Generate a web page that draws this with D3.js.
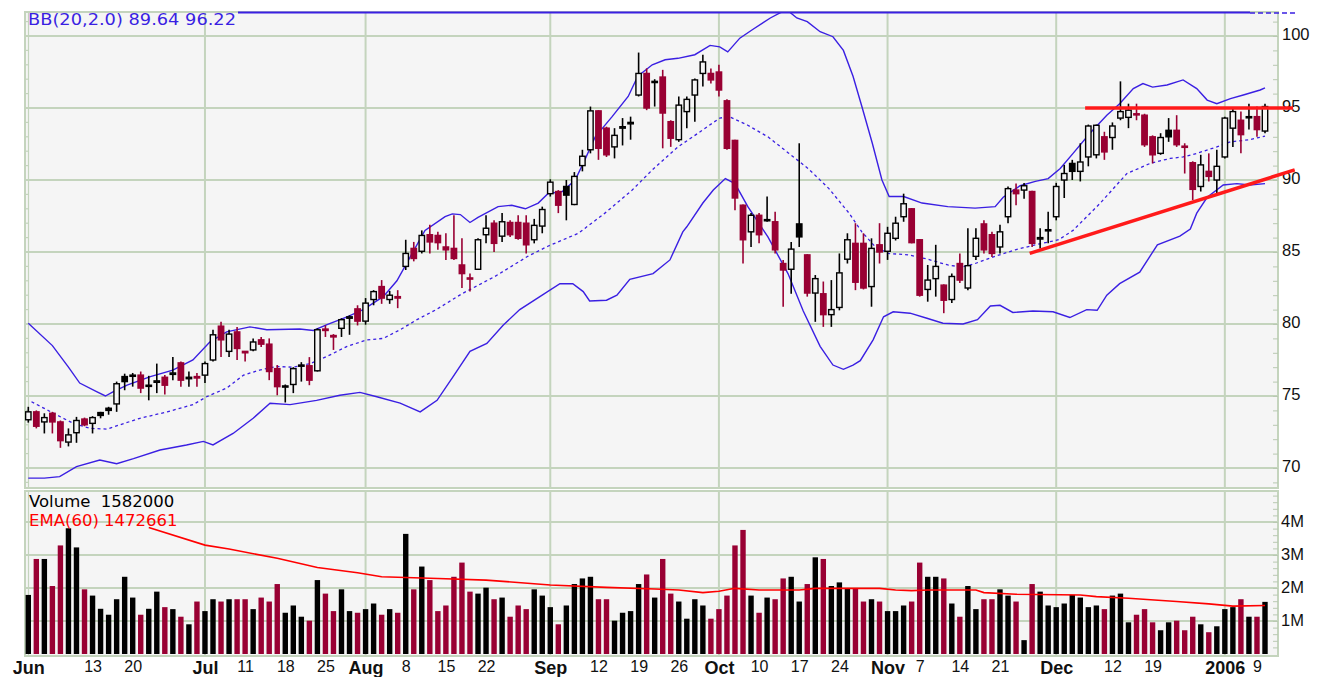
<!DOCTYPE html>
<html>
<head>
<meta charset="utf-8">
<script src="https://cdn.jsdelivr.net/npm/d3@7"></script>
<style>
  body { margin: 0; background: #fff; }
  svg { display: block; font-family: "DejaVu Sans", Verdana, sans-serif; }
</style>
</head>
<body>
<svg id="chart" width="1322" height="677"></svg>
<script>
// daily OHLC, 1 Jun 2005 .. 10 Jan 2006 (trading days)
const open = [
  73.35, 73.9, 73.2, 73.8, 73.2, 71.8, 72.45, 73.4, 73.1, 73.85,
  74.15, 74.45, 76.35, 76.45, 76.45, 75.7, 75.95, 76.3, 76.5, 77.3,
  76.2, 76.35, 76.45, 77.5, 79.85, 78.1, 79.45, 78.1, 78.2, 78.9,
  78.6, 76.9, 75.65, 75.8, 77.1, 77.1, 76.75, 79.65, 79.2, 79.7,
  80.4, 81.05, 80.2, 81.7, 82.6, 81.7, 81.9, 84.0, 85.25, 85.05,
  86.2, 86.15, 85.35, 85.25, 84.1, 83.2, 83.8, 86.2, 87.0, 86.1,
  87.05, 87.05, 87.0, 85.85, 86.8, 89.05, 89.2, 89.55, 88.3, 91.0,
  92.1, 94.8, 93.6, 92.3, 93.6, 93.9, 95.9, 97.4, 96.8, 97.15,
  94.05, 92.8, 94.75, 95.9, 97.4, 97.4, 97.5, 95.5, 92.75, 88.25,
  86.4, 87.55, 87.2, 87.1, 84.2, 83.8, 86.95, 84.8, 82.15, 82.1,
  80.65, 81.15, 84.5, 85.6, 85.6, 82.6, 85.5, 85.05, 85.95, 87.45,
  88.0, 85.85, 82.4, 83.15, 82.7, 81.7, 84.2, 82.5, 84.7, 86.95,
  86.2, 85.35, 87.45, 89.3, 89.3, 89.2, 85.9, 86.5, 87.45, 90.0,
  91.15, 90.6, 91.6, 91.75, 93.0, 92.95, 94.3, 94.35, 94.6, 94.5,
  93.0, 91.85, 93.45, 93.45, 92.35, 91.2, 89.55, 90.6, 90.0, 91.6,
  93.6, 94.15, 94.35, 94.4, 93.4
];
const high = [
  74.25, 74.0, 73.8, 73.9, 73.3, 72.75, 73.55, 73.5, 73.6, 73.9,
  74.25, 76.0, 76.55, 76.6, 76.7, 76.4, 77.25, 76.45, 77.7, 77.4,
  76.7, 76.6, 77.4, 79.6, 80.15, 79.6, 79.8, 78.1, 79.0, 79.1,
  79.0, 77.15, 75.8, 77.0, 77.35, 77.7, 79.7, 79.9, 79.3, 80.4,
  80.6, 81.3, 81.8, 82.35, 83.05, 82.3, 82.35, 85.85, 85.7, 86.5,
  86.9, 86.4, 86.3, 87.55, 85.95, 83.5, 85.95, 87.55, 87.2, 87.7,
  87.2, 87.55, 87.55, 87.3, 88.15, 90.05, 89.3, 90.0, 90.55, 92.1,
  95.1, 94.85, 93.7, 93.6, 94.3, 94.4, 98.85, 97.75, 97.0, 97.65,
  94.15, 95.8, 95.8, 97.05, 98.7, 97.75, 98.0, 95.6, 92.8, 88.3,
  87.7, 87.7, 88.85, 87.8, 84.45, 85.7, 92.55, 84.85, 83.4, 82.95,
  83.05, 84.9, 86.3, 87.0, 86.3, 85.95, 87.0, 86.75, 87.45, 89.05,
  88.05, 85.9, 84.1, 85.5, 82.75, 83.5, 84.9, 86.65, 86.65, 87.2,
  86.4, 86.9, 89.55, 89.75, 89.8, 89.25, 86.65, 87.8, 89.8, 91.05,
  91.4, 92.55, 93.85, 93.85, 93.35, 94.0, 96.85, 95.3, 95.3, 94.6,
  93.1, 93.25, 94.3, 94.5, 92.55, 91.3, 91.75, 91.85, 92.1, 94.4,
  95.0, 94.75, 95.3, 95.1, 95.3
];
const low = [
  73.15, 72.75, 72.4, 72.4, 71.4, 71.5, 71.75, 72.9, 72.4, 73.45,
  73.7, 73.9, 75.4, 75.65, 75.2, 74.7, 75.2, 75.1, 76.1, 75.65,
  75.65, 75.65, 75.9, 77.4, 77.7, 77.7, 77.5, 77.4, 78.1, 78.4,
  76.1, 75.05, 74.55, 75.2, 76.0, 75.75, 76.7, 79.1, 78.2, 79.1,
  79.25, 79.9, 79.95, 81.3, 81.4, 81.4, 81.1, 83.75, 84.35, 84.9,
  84.9, 85.15, 84.45, 84.45, 82.5, 82.25, 83.75, 85.6, 85.0, 85.7,
  86.05, 85.85, 84.9, 85.6, 86.3, 88.85, 87.7, 87.2, 88.25, 90.6,
  91.85, 91.4, 91.6, 91.5, 92.4, 92.8, 95.8, 94.85, 95.1, 92.2,
  92.3, 92.65, 93.6, 94.05, 96.5, 96.7, 95.8, 92.1, 87.9, 84.2,
  85.35, 85.6, 87.1, 84.9, 81.2, 82.1, 85.35, 81.9, 80.15, 79.8,
  79.8, 80.95, 84.2, 82.35, 82.4, 81.2, 84.2, 84.45, 85.8, 87.1,
  85.6, 81.9, 81.55, 81.9, 80.75, 81.45, 82.85, 82.35, 84.45, 84.9,
  84.65, 84.9, 87.0, 88.25, 88.7, 85.35, 85.25, 85.6, 87.2, 88.75,
  90.0, 89.9, 90.95, 91.5, 91.4, 92.1, 94.15, 93.6, 94.15, 92.3,
  91.15, 91.75, 92.65, 92.3, 90.45, 88.6, 89.2, 89.9, 89.1, 91.5,
  92.3, 91.85, 93.5, 93.0, 93.25
];
const close = [
  73.9, 72.9, 73.5, 73.2, 71.9, 72.3, 73.3, 73.0, 73.5, 73.65,
  74.0, 75.85, 76.0, 76.4, 75.55, 75.75, 76.05, 75.75, 76.6, 76.1,
  76.3, 76.25, 77.25, 79.25, 78.9, 79.3, 78.3, 78.0, 78.75, 78.6,
  76.7, 75.65, 75.7, 76.9, 77.15, 76.1, 79.6, 79.55, 79.1, 80.3,
  80.5, 80.2, 81.45, 82.25, 81.8, 82.0, 81.8, 84.9, 84.55, 86.15,
  85.7, 85.65, 85.15, 84.55, 83.5, 83.15, 85.85, 86.65, 85.6, 87.1,
  86.2, 85.95, 85.5, 86.85, 87.95, 89.85, 88.25, 88.95, 90.25, 91.65,
  94.8, 92.2, 91.75, 93.1, 93.7, 94.0, 97.4, 95.0, 96.85, 94.65,
  92.9, 95.2, 95.6, 96.95, 98.2, 96.95, 96.25, 92.2, 88.75, 85.85,
  87.55, 86.2, 87.25, 85.15, 83.75, 85.2, 86.05, 82.15, 83.15, 80.65,
  81.0, 83.55, 85.85, 82.9, 82.5, 85.25, 85.0, 86.3, 87.0, 88.35,
  85.65, 82.0, 83.05, 84.0, 81.65, 83.3, 83.05, 84.05, 85.95, 85.15,
  84.9, 86.4, 89.4, 89.05, 89.6, 85.6, 86.0, 86.55, 89.55, 90.45,
  90.6, 91.25, 93.75, 93.8, 91.95, 93.75, 94.75, 94.85, 94.55, 92.45,
  91.75, 92.95, 93.0, 92.45, 92.3, 89.35, 91.05, 90.25, 90.95, 94.3,
  94.75, 93.15, 94.4, 93.5, 95.1
];
// volume in millions
const volume = [
  1.79, 2.88, 2.88, 2.06, 3.29, 3.81, 3.23, 1.96, 1.77, 1.37,
  1.19, 1.66, 2.34, 1.71, 1.19, 1.37, 1.89, 1.42, 1.36, 1.13,
  0.9, 1.59, 1.3, 1.66, 1.59, 1.66, 1.66, 1.66, 1.36, 1.71,
  1.59, 2.12, 1.25, 1.47, 1.13, 1.01, 2.24, 1.83, 1.3, 1.96,
  1.3, 1.25, 1.36, 1.53, 1.19, 1.36, 1.25, 3.64, 1.96, 2.65,
  2.24, 1.3, 1.47, 2.34, 2.77, 1.89, 1.83, 2.01, 1.66, 1.71,
  1.13, 1.47, 1.36, 1.96, 1.77, 1.42, 0.9, 1.47, 2.12, 2.29,
  2.34, 1.66, 1.66, 1.01, 1.25, 1.3, 2.12, 2.41, 1.71, 2.88,
  1.83, 1.59, 1.07, 1.66, 1.47, 1.07, 1.36, 1.77, 3.29, 3.76,
  1.77, 1.25, 1.71, 1.66, 2.29, 2.34, 1.59, 2.12, 2.93, 2.88,
  2.06, 2.17, 1.99, 1.99, 1.59, 1.66, 1.59, 1.3, 1.3, 1.47,
  1.59, 2.77, 2.34, 2.34, 2.29, 1.53, 1.13, 2.06, 1.36, 1.66,
  1.66, 1.96, 1.77, 1.59, 0.42, 2.12, 1.89, 1.47, 1.42, 1.53,
  1.79, 1.71, 1.42, 1.47, 1.36, 1.77, 1.83, 0.96, 1.19, 1.36,
  0.96, 0.72, 0.96, 1.01, 0.72, 1.13, 0.9, 0.66, 0.84, 1.36,
  1.42, 1.66, 1.13, 1.13, 1.58
];

// Bollinger bands: [bar index, price]
const bbUpper = [
  [0,80.05],[3,78.5],[5,77.0],[6.4,75.9],[8.5,75.3],[9.6,75.0],[10.6,75.3],[12.3,75.75],
  [15.2,76.35],[18,76.8],[20.5,77.5],[22.6,78.75],[24.7,79.45],[27.6,79.8],[29.7,79.6],
  [33.8,79.65],[35.5,79.55],[37.2,79.95],[39.7,80.5],[41.7,81.0],[44.2,81.9],[45.9,83.0],
  [47.8,84.9],[49.4,86.5],[51.9,87.45],[52.8,87.65],[53.8,87.6],[55,87.05],[56,87.4],
  [58.5,88.15],[60.2,88.25],[61.9,88.0],[63.5,88.4],[64.7,89.05],[66.5,89.2],[68.1,90.0],
  [69.3,91.4],[70.6,93.0],[72.7,94.4],[74.7,95.8],[75.9,97.2],[77.7,98.0],[79.3,98.35],
  [80.9,98.45],[83,98.7],[84.9,99.35],[86.1,99.25],[87.1,98.9],[88.6,99.85],[90.2,100.45],
  [92.4,101.25],[93.6,101.6],[94.5,101.8],[95.7,101.25],[97,101.0],[98.6,100.3],[100.2,99.95],
  [101.5,99.0],[102.7,97.2],[103.8,95.1],[105.1,92.55],[106.3,90.0],[107.2,88.85],[109,88.85],
  [111.3,88.4],[114.5,88.15],[117.9,88.05],[120.4,88.15],[121.4,88.8],[123.5,89.6],[125.4,89.9],
  [127,90.1],[128.5,90.8],[130.1,91.85],[132.2,93.25],[134.3,94.5],[135.9,95.3],[137.6,96.35],
  [138.8,96.7],[140,96.45],[141.8,96.6],[143.8,96.95],[145.5,96.35],[146.8,95.55],[148,95.3],
  [149.7,95.65],[151.3,95.9],[153.4,96.25],[154,96.4]
];
const bbMiddle = [
  [0.4,74.6],[3.5,73.7],[5.6,73.1],[7.7,72.75],[9.8,72.7],[11.4,73.0],[13.9,73.45],[17.3,73.9],
  [20.5,74.4],[22.2,74.95],[24.7,75.55],[26.8,76.45],[28.8,76.8],[30.9,77.05],[33,77.0],
  [35.1,77.25],[37.2,77.75],[39.7,78.45],[42.2,78.9],[44.2,79.0],[46.3,79.6],[48.4,80.3],
  [50.8,81.0],[54,82.1],[58.1,83.3],[62.2,84.7],[64.7,85.4],[68.5,86.3],[71.8,87.7],[75.2,89.3],
  [77.7,90.7],[80.9,92.3],[83.4,93.25],[86.1,94.3],[87.3,94.4],[89.6,93.8],[92.1,93.0],
  [94.6,91.9],[97.1,90.8],[99.7,89.4],[102.2,87.7],[103.8,86.4],[105.4,85.4],[107.1,84.9],
  [109.6,84.8],[112,84.5],[114.5,84.1],[116.3,83.95],[117.9,84.2],[120.4,84.7],[122.9,85.15],
  [125.4,85.5],[128.3,85.85],[130.1,86.5],[133.5,88.4],[136.8,90.45],[139.7,91.15],[142.2,91.5],
  [143.8,91.6],[145.5,91.85],[148,92.3],[149.7,92.65],[152.1,92.8],[154,93.05]
];
const bbLower = [
  [0,69.3],[2,69.3],[3.9,69.4],[6,70.1],[8.9,70.55],[11,70.3],[13.1,70.65],[16.4,71.25],
  [19.7,71.6],[21.8,71.85],[23,71.6],[25.5,72.4],[28,73.45],[30.1,74.5],[32.6,74.4],[35.9,74.7],
  [38.8,75.05],[41.3,75.25],[43.4,74.95],[46.3,74.5],[48.8,73.9],[50.9,74.7],[52.9,76.35],
  [55,78.1],[57.1,78.65],[59.1,79.9],[61.2,81.0],[63.7,81.9],[66.2,82.8],[67.8,82.8],[69.1,82.25],
  [69.9,81.6],[72,81.65],[73.3,82.0],[74.9,83.1],[77.8,83.5],[79.9,84.45],[81.5,86.4],[82,86.75],
  [84,88.4],[85.3,89.3],[86.8,90.1],[88,89.75],[89.6,88.15],[92.1,86.05],[94.6,83.5],[96.5,80.9],
  [98.6,78.45],[100.2,77.15],[101.5,76.85],[102.7,77.15],[103.6,77.45],[105.2,78.9],[106.5,80.5],
  [107.7,80.85],[109.8,80.75],[111.9,80.4],[113.9,80.05],[116.4,80.0],[118.2,80.3],[119.8,81.25],
  [121,81.3],[122.6,80.8],[125.1,80.9],[127.6,80.85],[129.7,80.45],[131.8,81.0],[133.1,80.95],
  [134.3,82.0],[135.9,82.8],[138.4,83.6],[140.6,85.5],[143.4,86.1],[144.7,86.6],[145.5,87.7],
  [146.8,88.8],[148.8,89.65],[150.5,89.75],[152.1,89.65],[154,89.75]
];

// EMA(60) of volume
const emaIdx = [15,22,25,31,36,41,44,51,57,65,72,78,81,84,86,88,91,96,98,106,108,110,112,118,119,123,131,133,137,143,147,150,154];
const emaVal = [3.83,3.30,3.18,2.90,2.62,2.46,2.34,2.29,2.24,2.09,2.02,1.97,1.94,1.86,1.90,1.99,1.94,1.94,1.99,1.99,1.94,1.92,1.94,1.94,1.86,1.81,1.79,1.74,1.69,1.59,1.52,1.45,1.47];

// hand drawn trend lines: [[index, price], [index, price]]
const trendLines = [
  [[131.6, 95.0], [157.5, 95.0]],
  [[124.7, 84.9], [157.7, 90.7]]
];

const tickIdx = [0, 8, 13, 22, 27, 32, 37, 42, 47, 52, 57, 65, 71, 76, 81, 86, 91, 96, 101, 107, 111, 116, 121, 128, 135, 140, 149, 153];
const tickLabels = ['Jun','13','20','Jul','11','18','25','Aug','8','15','22','Sep','12','19','26','Oct','10','17','24','Nov','7','14','21','Dec','12','19','2006','9'];
const monthIdx = [22, 42, 65, 86, 107, 128, 149];
const priceTicks = [70, 75, 80, 85, 90, 95, 100];
const volTicks = [1, 2, 3, 4];

const bbLabel = 'BB(20,2.0) 89.64 96.22';
const volLabel = 'Volume  1582000';
const emaLabel = 'EMA(60) 1472661';

// ---------------------------------------------------------------
const svg = d3.select('#chart');
const left = 25, right = 1278;
const pTop = 12, pBottom = 488;
const vTop = 491, vBottom = 656;

const gridColor = '#c4d4bd';
const bg = '#f5f5f5';
const bandColor = '#3a1fe2';
const red = '#990033';

const x = d3.scaleLinear().domain([0, 154]).range([28.3, 1265]);
const y = d3.scaleLinear().domain([70, 100]).range([468, 36]);
const yv = d3.scaleLinear().domain([0, 4]).range([654, 522]);

const bars = d3.range(close.length).map(i => ({
  i, o: open[i], h: high[i], l: low[i], c: close[i], v: volume[i],
  up: i === 0 || close[i] >= close[i - 1]
}));

svg.append('rect').attr('width', 1322).attr('height', 677).attr('fill', '#fff');

// panels
svg.append('rect').attr('x', left).attr('y', pTop).attr('width', right - left).attr('height', pBottom - pTop)
  .attr('fill', bg).attr('stroke', gridColor).attr('stroke-width', 2);
svg.append('rect').attr('x', left).attr('y', vTop).attr('width', right - left).attr('height', vBottom - vTop)
  .attr('fill', bg).attr('stroke', gridColor).attr('stroke-width', 2);

svg.append('defs').append('clipPath').attr('id', 'pclip')
  .append('rect').attr('x', left).attr('y', pTop).attr('width', right - left).attr('height', pBottom - pTop);

// grid
const grid = svg.append('g').attr('stroke', gridColor).attr('stroke-width', 2);
grid.selectAll('.hp').data(priceTicks).join('line')
  .attr('x1', left).attr('x2', right).attr('y1', d => y(d)).attr('y2', d => y(d));
grid.selectAll('.hv').data(volTicks).join('line')
  .attr('x1', left).attr('x2', right).attr('y1', d => yv(d)).attr('y2', d => yv(d));
grid.selectAll('.vp').data(monthIdx).join('line')
  .attr('x1', d => x(d)).attr('x2', d => x(d)).attr('y1', pTop).attr('y2', pBottom);
grid.selectAll('.vv').data(monthIdx).join('line')
  .attr('x1', d => x(d)).attr('x2', d => x(d)).attr('y1', vTop).attr('y2', vBottom);

// left double border with small ticks
const lb = svg.append('g').attr('stroke', gridColor).attr('stroke-width', 1.2);
lb.append('line').attr('x1', 28.5).attr('x2', 28.5).attr('y1', pTop).attr('y2', pBottom);
lb.append('line').attr('x1', 28.5).attr('x2', 28.5).attr('y1', vTop).attr('y2', vBottom);
lb.selectAll('.lt').data(d3.range(69, 102)).join('line')
  .attr('x1', left).attr('x2', 28.5).attr('y1', d => y(d)).attr('y2', d => y(d));

// right minor ticks
svg.append('g').attr('transform', `translate(${right},0)`)
  .call(d3.axisLeft(y).tickValues(d3.range(69, 102)).tickSize(5).tickFormat(''))
  .call(g => g.select('.domain').remove())
  .call(g => g.selectAll('line').attr('stroke', '#b9c9b2'));
svg.append('g').attr('transform', `translate(${right},0)`)
  .call(d3.axisLeft(yv).tickValues(d3.range(0.2, 4.81, 0.2)).tickSize(5).tickFormat(''))
  .call(g => g.select('.domain').remove())
  .call(g => g.selectAll('line').attr('stroke', '#b9c9b2'));

// price axis labels
svg.append('g').attr('transform', `translate(${right},-2)`)
  .call(d3.axisRight(y).tickValues(priceTicks).tickSize(0).tickPadding(4))
  .call(g => g.select('.domain').remove())
  .call(g => g.selectAll('text').attr('font-size', 16.5).attr('fill', '#111').attr('font-family', null));
svg.append('g').attr('transform', `translate(${right},-1)`)
  .call(d3.axisRight(yv).tickValues(volTicks).tickSize(0).tickPadding(3).tickFormat(d => d + 'M'))
  .call(g => g.select('.domain').remove())
  .call(g => g.selectAll('text').attr('font-size', 16.5).attr('fill', '#111').attr('font-family', null));

// date axis
svg.append('g').attr('transform', `translate(0,${vBottom})`)
  .call(d3.axisBottom(x).tickValues(tickIdx).tickSize(0).tickPadding(5).tickFormat((d, k) => tickLabels[k]))
  .call(g => g.select('.domain').remove())
  .call(g => g.selectAll('text')
    .attr('fill', '#111').attr('font-family', null)
    .attr('font-size', (d, k) => /^\d{1,2}$/.test(tickLabels[k]) ? 16 : 18)
    .attr('font-weight', (d, k) => /^\d{1,2}$/.test(tickLabels[k]) ? 'normal' : 'bold'));

// price panel content
const plot = svg.append('g').attr('clip-path', 'url(#pclip)');

const bandLine = d3.line().x(d => x(d[0])).y(d => y(d[1]));
plot.append('path').datum(bbUpper).attr('d', bandLine)
  .attr('fill', 'none').attr('stroke', bandColor).attr('stroke-width', 1.4);
plot.append('path').datum(bbLower).attr('d', bandLine)
  .attr('fill', 'none').attr('stroke', bandColor).attr('stroke-width', 1.4);
plot.append('path').datum(bbMiddle).attr('d', bandLine)
  .attr('fill', 'none').attr('stroke', bandColor).attr('stroke-width', 1.3).attr('stroke-dasharray', '3,3');

const bodyW = 5.4;
const candle = plot.selectAll('.candle').data(bars).join('g').attr('class', 'candle');
candle.append('line')
  .attr('x1', d => x(d.i)).attr('x2', d => x(d.i))
  .attr('y1', d => y(d.h)).attr('y2', d => y(d.l))
  .attr('stroke', d => d.up ? '#000' : red).attr('stroke-width', 1.6);
candle.append('rect')
  .attr('x', d => x(d.i) - bodyW / 2)
  .attr('width', bodyW)
  .attr('y', d => y(Math.max(d.o, d.c)))
  .attr('height', d => Math.max(1.2, Math.abs(y(d.o) - y(d.c))))
  .attr('fill', d => d.c >= d.o ? bg : (d.up ? '#000' : red))
  .attr('stroke', d => d.up ? '#000' : red).attr('stroke-width', 1.4);

// legend
plot.append('text').attr('x', 28).attr('y', 25).attr('font-size', 16.5)
  .attr('textLength', 208).attr('lengthAdjust', 'spacingAndGlyphs')
  .attr('fill', bandColor).text(bbLabel);

// top border strip
svg.append('line').attr('x1', 238).attr('x2', 1250).attr('y1', 12.5).attr('y2', 12.5)
  .attr('stroke', bandColor).attr('stroke-width', 2);
svg.append('line').attr('x1', 1250).attr('x2', 1297).attr('y1', 13).attr('y2', 13)
  .attr('stroke', bandColor).attr('stroke-width', 1.5).attr('stroke-dasharray', '5,3');

// trend lines
svg.selectAll('.trend').data(trendLines).join('line')
  .attr('x1', d => x(d[0][0])).attr('y1', d => y(d[0][1]))
  .attr('x2', d => x(d[1][0])).attr('y2', d => y(d[1][1]))
  .attr('stroke', '#ff1a1a').attr('stroke-width', 3.5);

// volume
svg.append('g').selectAll('rect').data(bars).join('rect')
  .attr('x', d => x(d.i) - 2.7).attr('width', 5.4)
  .attr('y', d => yv(d.v)).attr('height', d => yv(0) - yv(d.v))
  .attr('fill', d => d.up ? '#000' : red);

const ema = d3.line().x(d => x(d[0])).y(d => yv(d[1]));
svg.append('path').datum(emaIdx.map((d, k) => [d, emaVal[k]])).attr('d', ema)
  .attr('fill', 'none').attr('stroke', '#ff0000').attr('stroke-width', 1.6);

svg.append('text').attr('x', 29).attr('y', 507).attr('font-size', 16.5).attr('fill', '#000')
  .attr('xml:space', 'preserve').style('white-space', 'pre').text(volLabel);
svg.append('text').attr('x', 29).attr('y', 526).attr('font-size', 16.5).attr('fill', '#ff0000')
  .text(emaLabel);
</script>
</body>
</html>
